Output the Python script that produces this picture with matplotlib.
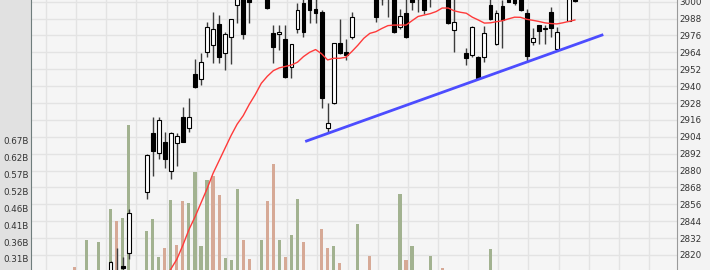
import matplotlib
matplotlib.use('Agg')
import matplotlib.pyplot as plt
import matplotlib.transforms as mtransforms
from matplotlib.patches import Rectangle
import numpy as np

nan = np.nan

# daily candles, index 0..83 (10 and 11 have no bar in the picture)
opens = [2795, 2789, 2786, 2794, 2790, 2799, 2795, 2806, 2812.1, 2821.2,
         nan, nan, 2864.6, 2906.5, 2892.3, 2900.5, 2879.9, 2899.8, 2918.3, 2910.5,
         2948.6, 2944.9, 2964.0, 2969.2, 2983.9, 2963.3, 2975.1, 2998.0, 3010, 3004,
         3008, 3006, 3006, 2977.5, 2976.8, 2973.3, 2953.8, 2980.4, 2998.9, 3004,
         2994.6, 2992.9, 2910.0, 2927.8, 2970.9, 2964.5, 2975.1, 3003, 3008, 3012,
         3006, 3002, 3008, 3004, 2982.2, 2991.8, 3004, 3002, 3006, 3003,
         3008, 3012, 3006, 2979.9, 3004, 2963.3, 2962.1, 2960.9, 2960.9, 2997.7,
         2969.9, 2996.9, 3005, 3004, 3003, 2991.8, 2971.6, 2983.4, 2980.4, 2992.9,
         2966.2, 3004, 2986.5, 3006]
highs = [2802, 2797, 2800, 2799, 2803, 2805, 2815.5, 2825, 2818.8, 2852.7,
         nan, nan, 2891.5, 2917.9, 2917.9, 2907.6, 2907.6, 2906.5, 2925.4, 2931.8,
         2959.1, 2963.8, 2985.8, 2992.9, 2990.5, 2978.3, 2988.0, 3012, 3014, 3008,
         3016, 3018, 3010, 2983.4, 2983.4, 2983.4, 2970.0, 2999.3, 3002, 3008,
         3002, 2994.0, 2928.2, 2971.0, 2987.5, 2973.3, 2992.9, 3012, 3015, 3016,
         3010, 3010, 3012, 3008, 2994.6, 3002, 3008, 3009, 3009, 3011,
         3015, 3016, 3009, 3003, 3010, 2966.9, 2983.0, 2961.5, 2982.7, 3003,
         2994.1, 3001, 3009, 3008, 3007, 2994.6, 2981.1, 2983.5, 2983.4, 2996.4,
         2982.2, 3012, 3008, 3010]
lows = [2785, 2780, 2782, 2785, 2787, 2791, 2790, 2795, 2800, 2817,
        nan, nan, 2859.6, 2876.1, 2888.0, 2881.6, 2873.8, 2883.2, 2900.0, 2907.6,
        2939.0, 2940.8, 2960.5, 2956.7, 2956.2, 2951.5, 2955.5, 2985, 2973.3, 2984.7,
        3003, 3003, 2995, 2956.2, 2966, 2945.6, 2945.6, 2977.8, 2974.7, 2984.7,
        2984.7, 2924.2, 2907.6, 2927.0, 2963.0, 2958.6, 2973.3, 3002, 3004, 3003,
        2985.8, 2997.7, 2989.3, 2978.0, 2980.4, 2974.0, 2994.1, 2992.9, 2991.3, 2996.4,
        3004, 3003, 2984.5, 2964.5, 3002, 2955.0, 2960.9, 2945.6, 2957.4, 2987.0,
        2969.0, 2967.3, 2999.5, 2998, 2993.5, 2957.4, 2969.2, 2969.7, 2969.7, 2974.7,
        2965.7, 3002, 2986, 2999.5]
closes = [2790, 2786, 2793, 2790, 2798, 2796, 2815.3, 2800, 2811.0, 2849.6,
          nan, nan, 2891.1, 2894.1, 2915.9, 2888.0, 2906.5, 2904.6, 2900.5, 2917.9,
          2939.2, 2957.4, 2982.2, 2980.6, 2960.5, 2976.8, 2987.5, 3006, 2977.1, 3000.0,
          3005, 3012, 2995.3, 2968.0, 2978.4, 2946.3, 2969.7, 2994.1, 2978.3, 2994.1,
          2991.8, 2931.4, 2913.6, 2970.4, 2963.3, 2962.1, 2988.9, 3010, 3012, 3005,
          2989.3, 3006, 3003, 2978.7, 2989.8, 2974.6, 3000.0, 3007, 2994.1, 3008,
          3012, 3006, 2984.7, 2985.8, 3006, 2959.8, 2982.2, 2946.0, 2977.5, 2987.5,
          2992.2, 2987.0, 2999.9, 2999.3, 2994.1, 2961.4, 2974.0, 2979.4, 2981.5, 2981.1,
          2978.3, 3008, 3004, 3000.5]

# volume in billions, 1 = up day (green), 0 = down day
volumes = [0.275, 0.24, 0.357, 0.23, 0.349, 0.25, 0.449, 0.413, 0.423, 0.706,
           nan, nan, 0.384, 0.420, 0.304, 0.332, 0.477, 0.342, 0.474, 0.470,
           0.564, 0.337, 0.538, 0.551, 0.492, 0.301, 0.296, 0.510, 0.355, 0.298,
           0.24, 0.355, 0.474, 0.586, 0.355, 0.304, 0.372, 0.481, 0.349, 0.25,
           0.23, 0.390, 0.333, 0.339, 0.286, 0.24, 0.25, 0.406, 0.22, 0.308,
           0.23, 0.21, 0.24, 0.25, 0.497, 0.296, 0.339, 0.22, 0.24, 0.308,
           0.23, 0.270, 0.22, 0.24, 0.21, 0.23, 0.25, 0.24, 0.22, 0.329,
           0.25, 0.23, 0.21, 0.20, 0.22, 0.25, 0.21, 0.20, 0.19, 0.22,
           0.21, 0.23, 0.24, 0.22]
vol_up = [0, 0, 1, 0, 1, 0, 1, 0, 1, 1,
          0, 0, 1, 1, 1, 0, 1, 0, 0, 1,
          1, 1, 1, 0, 0, 1, 1, 1, 0, 0,
          1, 1, 0, 0, 1, 0, 1, 1, 0, 1,
          0, 0, 0, 1, 0, 0, 1, 1, 1, 0,
          0, 1, 0, 0, 1, 0, 1, 1, 0, 1,
          1, 0, 0, 1, 1, 0, 1, 0, 1, 1,
          1, 0, 1, 0, 0, 0, 1, 1, 1, 0,
          0, 1, 0, 0]

# moving average, starts at index 15
ma_start = 15
ma_values = [2803, 2810, 2817, 2827, 2838, 2847, 2857, 2867, 2878, 2887,
             2896, 2905, 2913, 2919, 2927, 2934, 2942, 2947, 2951, 2953,
             2954, 2955, 2957, 2961, 2964, 2966, 2963, 2958.6, 2959.8, 2959.8,
             2960.5, 2964.5, 2969, 2974, 2977.5, 2978.7, 2981, 2983, 2983.4, 2983.4,
             2983.4, 2986.5, 2989.5, 2990.5, 2991.5, 2993, 2995.5, 2995.5, 2993.5, 2992.5,
             2991.8, 2989, 2987, 2984.8, 2985, 2985.8, 2986.5, 2987.8, 2989, 2988.9,
             2987.5, 2986.8, 2986, 2985, 2984.5, 2984.2, 2985, 2986, 2987]

# support line drawn by hand
trend_x = [38.5, 87.5]
trend_y = [2901.0, 2976.3]

price_ticks = list(range(2808, 3013, 12))


def vol_of_price(p):
    # volume scale shares the price grid
    return 0.670 + (p - 2904) * 0.0514 / 12


o = np.array(opens)
h = np.array(highs)
l = np.array(lows)
c = np.array(closes)
v = np.array(volumes)
idx = np.arange(len(c))
ok = ~np.isnan(c)

fig = plt.figure(figsize=(7.1, 2.7), dpi=100, facecolor='#f3f3f3')
fig.patches.append(Rectangle((0, 0), 31 / 710, 1, transform=fig.transFigure,
                             color='#e1e1e1', zorder=-5))
ax = fig.add_axes([31 / 710, 0, 646 / 710, 1])
ax.set_facecolor('#f5f5f5')
ax2 = ax.twinx()

p_lo, p_hi = 2809.34, 3001.21
x_lo, x_hi = -7.19, 99.94

# volume bars on the back axes
cols = np.where(np.array(vol_up) == 1, '#a2b290', '#d6a996')
ax.bar(idx[ok], v[ok], width=0.52, color=cols[ok], zorder=2)
vticks = [vol_of_price(p) for p in price_ticks]
ax.set_yticks(vticks)
ax.set_yticklabels(['%.2fB' % t if 0.3 < t < 0.7 else '' for t in vticks])
ax.set_xticks(np.arange(-4.7, 99, 5))
ax.set_xticklabels([])
ax.set_ylim(vol_of_price(p_lo), vol_of_price(p_hi))
ax.set_xlim(x_lo, x_hi)
ax.grid(True, color='#e3e3e3', lw=1, zorder=0)
ax.set_axisbelow(True)
ax.tick_params(length=0, labelsize=6.3, labelcolor='#333333', pad=1.5)
shift = mtransforms.ScaledTranslation(0, -4 / 100, fig.dpi_scale_trans)
for lab in ax.get_yticklabels():
    lab.set_transform(lab.get_transform() + shift)
for s in ['top', 'bottom', 'right']:
    ax.spines[s].set_visible(False)
ax.spines['left'].set_color('#6f7d7d')

# candles
ax2.vlines(idx[ok], l[ok], h[ok], color='#3c3c3c', lw=1, zorder=3)
up = ok & (c >= o)
dn = ok & (c < o)
ax2.bar(idx[up], c[up] - o[up], bottom=o[up], width=0.64, color='white',
        edgecolor='black', lw=0.8, zorder=4)
ax2.bar(idx[dn], o[dn] - c[dn], bottom=c[dn], width=0.64, color='black',
        edgecolor='black', lw=0.8, zorder=4)

ax2.plot(np.arange(ma_start, ma_start + len(ma_values)), ma_values,
         color='#ff3a3a', lw=1, zorder=5)
ax2.plot(trend_x, trend_y, color='#4c4cff', lw=2, zorder=5)

ax2.set_yticks(price_ticks)
ax2.set_yticklabels([str(t) for t in price_ticks])
ax2.set_ylim(p_lo, p_hi)
ax2.set_xlim(x_lo, x_hi)
ax2.tick_params(length=0, labelsize=6.3, labelcolor='#333333', pad=2)
for s in ['top', 'bottom', 'left']:
    ax2.spines[s].set_visible(False)
ax2.spines['right'].set_color('#9a9a9a')

fig.savefig('out.png', dpi=100, facecolor=fig.get_facecolor())
